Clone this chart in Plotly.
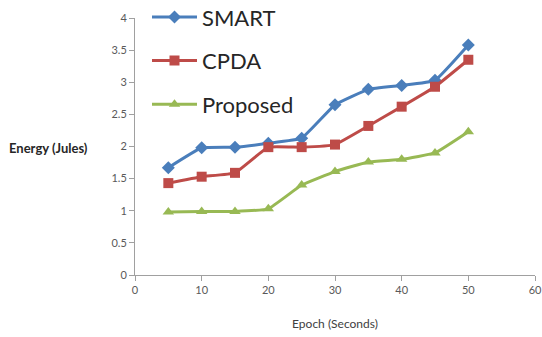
import plotly.graph_objects as go

epochs = [5, 10, 15, 20, 25, 30, 35, 40, 45, 50]
smart = [1.67, 1.98, 1.99, 2.05, 2.13, 2.65, 2.89, 2.95, 3.03, 3.58]
cpda = [1.43, 1.53, 1.59, 1.99, 1.99, 2.03, 2.32, 2.62, 2.93, 3.35]
proposed = [0.98, 0.99, 0.99, 1.03, 1.40, 1.61, 1.76, 1.80, 1.90, 2.23]

x_ticks = [0, 10, 20, 30, 40, 50, 60]
y_ticks = [0, 0.5, 1, 1.5, 2, 2.5, 3, 3.5, 4]
y_tick_text = ["0", "0.5", "1", "1.5", "2", "2.5", "3", "3.5", "4"]

series = [
    ("SMART", smart, "#4A7EBB", "diamond", 10),
    ("CPDA", cpda, "#BE4B48", "square", 10),
    ("Proposed", proposed, "#98B954", "triangle-up", 10),
]

fig = go.Figure()
for i, (name, vals, color, symbol, msize) in enumerate(series):
    fig.add_trace(go.Scatter(
        x=epochs, y=vals, name=name, mode="lines+markers",
        line=dict(color=color, width=3, shape="spline", smoothing=0.3),
        marker=dict(symbol=symbol, size=msize, color=color),
        legendgroup=f"g{i}",
    ))

# plot area in pixels: left 135, right 535, top 18, bottom 275
fig.update_layout(
    width=542, height=337,
    margin=dict(l=135, r=7, t=18, b=62, autoexpand=False),
    paper_bgcolor="white", plot_bgcolor="white",
    font=dict(family="Lato, Open Sans, sans-serif", color="#595959"),
    showlegend=True,
    legend=dict(
        x=0.03, y=1.085, xanchor="left", yanchor="top",
        bgcolor="rgba(0,0,0,0)",
        font=dict(size=22, color="#262626"),
        tracegroupgap=12, itemwidth=45,
    ),
    xaxis=dict(
        range=[0, 60], tickvals=x_ticks, showgrid=False, zeroline=False,
        showline=True, linecolor="#a0a0a0", linewidth=1, automargin=False,
        ticks="outside", ticklen=5, tickcolor="#a0a0a0",
        tickfont=dict(size=11, color="#595959"),
        title=dict(text="Epoch (Seconds)", font=dict(size=12, color="#404040"), standoff=24),
    ),
    yaxis=dict(
        range=[0, 4], tickvals=y_ticks, ticktext=y_tick_text, showgrid=False, zeroline=False,
        showline=True, linecolor="#a0a0a0", linewidth=1, automargin=False,
        ticks="outside", ticklen=5, tickcolor="#a0a0a0",
        tickfont=dict(size=11, color="#595959"),
    ),
    annotations=[dict(
        text="<b>Energy (Jules)</b>",
        x=(48 - 135) / 400, y=(275 - 148) / 257, xref="paper", yref="paper",
        xanchor="center", yanchor="middle",
        showarrow=False, font=dict(size=13, color="#262626"),
    )],
)

fig.write_html("out.html")
